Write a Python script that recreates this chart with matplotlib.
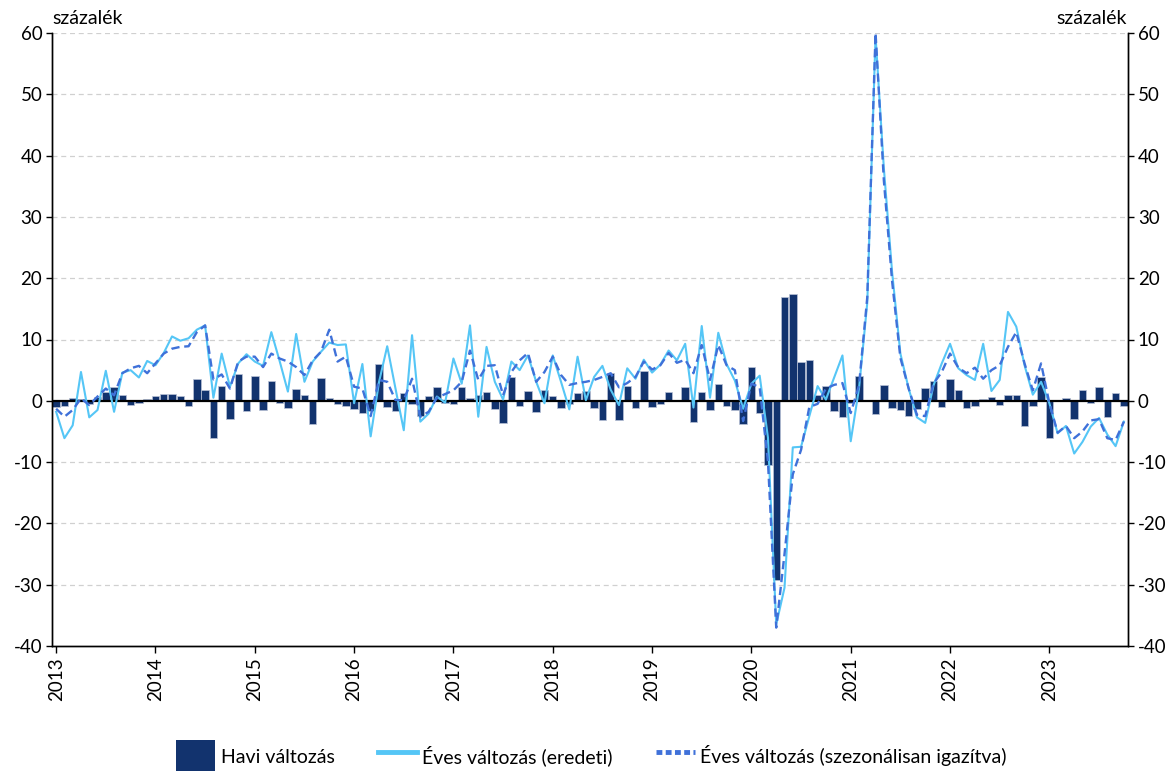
import matplotlib
matplotlib.use('Agg')
import matplotlib.pyplot as plt
import numpy as np
from matplotlib.patches import Patch
from matplotlib.lines import Line2D

plt.rcParams['font.family'] = ['Lato', 'DejaVu Sans']
plt.rcParams['axes.unicode_minus'] = False

years = [str(y) for y in range(2013, 2024)]

# Havi változás (monthly change), Jan 2013 - Oct 2023
havi = [-1.0, -0.8, 0.4, 0.3, -0.6, 0.6, 1.5, 2.2, 0.9, -0.7, -0.3, 0.3,
        0.8, 1.1, 1.1, 0.8, -0.9, 3.6, 1.7, -6.1, 2.4, -3.0, 4.3, -1.7,
        4.0, -1.5, 3.2, -0.4, -1.1, 2.0, 1.0, -3.8, 3.8, 0.4, -0.6, -0.8,
        -1.4, -2.0, -1.6, 6.0, -1.0, -1.7, 1.3, -0.5, -2.5, 0.8, 2.3, -0.3,
        -0.6, 2.3, 0.5, 1.0, 1.4, -1.4, -3.7, 3.9, -0.9, 1.6, -1.8, 1.7,
        0.8, -1.1, -0.6, 1.3, 1.6, -1.2, -3.2, 4.5, -3.2, 2.4, -1.1, 4.8,
        -1.0, -0.5, 1.5, 0.1, 2.2, -3.5, 1.4, -1.5, 2.7, -0.9, -1.5, -3.8,
        5.5, -2.0, -10.5, -29.3, 17.0, 17.5, 6.4, 6.7, 1.0, 2.4, -1.6, -2.7,
        -0.3, 4.0, 0.2, -2.2, 2.5, -1.1, -1.5, -2.4, -1.4, 2.1, 3.2, -1.0,
        3.6, 1.8, -1.1, -0.9, 0.3, 0.6, -0.7, 1.0, 1.0, -4.1, -0.9, 3.9,
        -6.1, 0.1, 0.4, -3.0, 1.8, -0.4, 2.3, -2.6, 1.2, -0.8]

# Éves változás (eredeti)
eves = [-1.8, -6.1, -4.0, 4.7, -2.7, -1.5, 4.9, -1.8, 4.6, 5.0, 3.8, 6.5,
        5.8, 7.8, 10.5, 9.8, 10.2, 11.6, 12.3, 0.5, 7.7, 2.3, 6.1, 7.6,
        6.4, 5.7, 11.2, 6.5, 1.5, 10.9, 3.1, 6.4, 8.0, 9.5, 9.1, 9.2,
        -0.4, 6.0, -5.8, 3.0, 8.9, 2.0, -4.8, 10.7, -3.4, -2.1, 0.7, -0.3,
        6.9, 2.8, 12.3, -2.6, 8.8, 3.1, 0.2, 6.4, 5.0, 7.4, 3.1, -0.4,
        7.4, 3.1, -1.4, 7.2, 0.1, 3.9, 5.7, 1.8, -0.7, 5.3, 3.6, 6.7,
        4.6, 5.9, 8.2, 6.6, 9.3, -1.1, 12.2, 0.5, 11.1, 6.0, 3.3, -1.3,
        2.8, 4.1, -6.0, -36.5, -30.5, -7.6, -7.5, -2.5, 2.4, 0.2, 3.8, 7.4,
        -6.6, 2.0, 16.0, 59.5, 38.0, 21.0, 7.7, 2.0, -2.7, -3.6, 2.5, 6.1,
        9.3, 5.3, 4.2, 3.4, 9.3, 1.6, 3.4, 14.5, 12.1, 5.8, 1.0, 3.1,
        -0.4, -5.3, -4.1, -8.6, -6.7, -4.2, -2.8, -5.5, -7.4, -3.4]

# Éves változás (szezonálisan igazítva)
eves_sa = [-1.3, -2.6, -1.5, 0.4, -0.7, 0.7, 2.0, 0.9, 4.5, 5.3, 5.7, 4.5,
           6.1, 7.7, 8.5, 8.8, 8.9, 11.2, 12.3, 3.5, 4.3, 2.0, 6.4, 7.2,
           7.2, 5.5, 7.7, 6.9, 6.4, 5.5, 4.2, 6.6, 8.0, 11.6, 6.4, 7.2,
           2.3, 2.0, -2.5, 3.4, 3.1, 0.1, 0.1, 3.6, -2.6, -1.8, 0.5, 1.1,
           1.7, 3.1, 8.2, 3.4, 5.7, 5.8, 0.9, 4.7, 6.6, 7.8, 3.1, 4.7,
           7.2, 4.2, 2.6, 2.9, 3.1, 3.4, 3.9, 4.5, 2.2, 2.9, 3.9, 6.4,
           5.1, 5.8, 7.8, 6.2, 6.7, 4.5, 9.1, 3.4, 9.1, 5.8, 5.0, -3.3,
           2.8, 2.2, -9.9, -37.0, -25.0, -12.0, -8.0, -1.0, -0.5, 2.0, 2.6, 2.9,
           -2.0, 2.5, 16.9, 60.0, 36.0, 19.5, 7.0, 2.0, -2.3, -2.5, 2.8, 4.7,
           7.7, 5.4, 4.5, 5.4, 3.6, 5.0, 5.8, 8.8, 11.2, 6.1, 1.7, 6.1,
           -0.4, -5.2, -4.1, -6.1, -5.0, -3.2, -3.0, -6.1, -6.4, -3.4]

labels = ['Havi változás', 'Éves változás (eredeti)',
          'Éves változás (szezonálisan igazítva)']

C_BAR = '#12336e'
C_SOLID = '#55c6f6'
C_DASH = '#3f71d9'
FS = 13.5

n = len(havi)
x = np.arange(n)

fig = plt.figure(figsize=(11.74, 7.71), dpi=100)
ax = fig.add_axes([52/1174, 1-646/771, (1128-52)/1174, (646-33)/771])
ax.set_xlim(-0.5, n-0.5)
ax.set_ylim(-40, 60)
yt = list(range(-40, 61, 10))
ax.set_yticks(yt)

for v in yt:
    if v not in (0, -40):
        ax.axhline(v, color='#d0d0d0', lw=0.9, ls=(0, (4, 3)), zorder=0)

ax.bar(x, havi, width=0.9, color=C_BAR, edgecolor='#b9c3d6', linewidth=0.5, zorder=2)
ax.axhline(0, color='black', lw=1.6, zorder=3)
ax.plot(x, eves, color=C_SOLID, lw=1.5, zorder=4)
ax.plot(x, eves_sa, color=C_DASH, lw=1.7, ls=(0, (3.5, 2)), zorder=5)

ax.set_xticks(np.arange(0, n, 12))
ax.set_xticklabels(years, rotation=90, fontsize=FS)
ax.tick_params(axis='x', length=5, width=1, pad=3)
ax.tick_params(axis='y', length=4, width=1, labelsize=FS, pad=3)

ax2 = ax.twinx()
ax2.set_ylim(-40, 60)
ax2.set_yticks(yt)
ax2.tick_params(axis='y', length=4, width=1, labelsize=FS, pad=3)

for a in (ax, ax2):
    a.spines['top'].set_visible(False)
    for s in ('left', 'right', 'bottom'):
        a.spines[s].set_linewidth(1.0)

fig.text(52/1174, 1-18/771, 'százalék', ha='left', va='center', fontsize=14)
fig.text(1127/1174, 1-18/771, 'százalék', ha='right', va='center', fontsize=14)

handles = [Patch(facecolor=C_BAR, edgecolor='none'),
           Line2D([], [], color=C_SOLID, lw=3.5),
           Line2D([], [], color=C_DASH, lw=3.5, ls=(0, (1.2, 0.7)))]
fig.legend(handles, labels, loc='center', bbox_to_anchor=(0.504, 0.018), ncol=3,
           frameon=False, handlelength=2.0, handleheight=2.3, handletextpad=0.3,
           columnspacing=2.2, fontsize=14)

fig.savefig('out.png', dpi=100)
